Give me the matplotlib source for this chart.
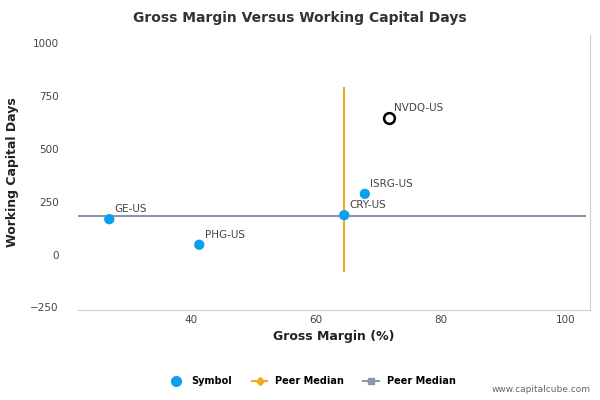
import matplotlib.pyplot as plt
from matplotlib.lines import Line2D

# data
symbols = ['GE-US', 'PHG-US', 'CRY-US', 'ISRG-US']
gross_margin = [26.9, 41.3, 64.5, 67.8]
wc_days = [168, 47, 187, 288]
hollow_symbol = 'NVDQ-US'
hollow_x = 71.6
hollow_y = 645
median_x = 64.5
median_y = 185
vline_range = [-75, 790]
x_ticks = [40, 60, 80, 100]
y_ticks = [-250, 0, 250, 500, 750, 1000]

blue = '#0aa0ef'
orange = '#f5a623'
grey = '#8b98a8'
txt = '#444444'

fig = plt.figure(figsize=(6, 4), dpi=100)
ax = fig.add_axes([0.13, 0.225, 0.853, 0.6875])

ax.plot([21.9, 103], [median_y, median_y], color=grey, lw=1.5, zorder=1)
ax.plot([median_x, median_x], vline_range, color=orange, lw=1.5, zorder=1)
ax.scatter(gross_margin, wc_days, s=55, color=blue, zorder=3, edgecolors='none')
ax.scatter([hollow_x], [hollow_y], s=60, facecolors='white', edgecolors='black', linewidths=1.8, zorder=3)

for s, x, y in zip(symbols + [hollow_symbol], gross_margin + [hollow_x], wc_days + [hollow_y]):
  ax.annotate(s, (x, y), xytext=(4, 5), textcoords='offset points', fontsize=7.5, color=txt)

ax.set_xlim(21.9, 103.8)
ax.set_ylim(-262, 1040)
ax.set_xticks(x_ticks)
ax.set_yticks(y_ticks)
ax.tick_params(length=0, labelsize=7.5, labelcolor=txt)
ax.tick_params(axis='y', pad=14)
for side in ['top', 'left']:
  ax.spines[side].set_visible(False)
for side in ['bottom', 'right']:
  ax.spines[side].set_color('#cccccc')

ax.set_xlabel('Gross Margin (%)', fontsize=9, fontweight='bold', color='#222222')
ax.set_ylabel('Working Capital Days', fontsize=9, fontweight='bold', color='#222222', labelpad=8)
fig.text(0.5, 0.955, 'Gross Margin Versus Working Capital Days', ha='center', va='center',
         fontsize=10, fontweight='bold', color='#333333')

handles = [
  Line2D([], [], marker='o', ls='none', color=blue, markersize=7),
  Line2D([], [], marker='D', color=orange, markersize=4),
  Line2D([], [], marker='s', color=grey, markersize=5),
]
fig.legend(handles, ['Symbol', 'Peer Median', 'Peer Median'], loc='center', bbox_to_anchor=(0.52, 0.047),
           ncol=3, frameon=False, prop={'size': 7, 'weight': 'bold'}, handlelength=1.6, columnspacing=2)
fig.text(0.985, 0.02, 'www.capitalcube.com', ha='right', fontsize=6.5, color='#666666')

fig.savefig('out.png', dpi=100)
